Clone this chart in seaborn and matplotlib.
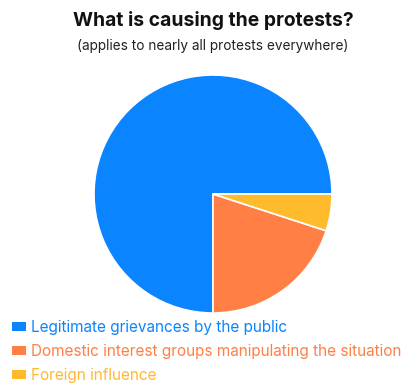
import matplotlib
matplotlib.use("Agg")
import matplotlib.pyplot as plt
import seaborn as sns
from matplotlib.patches import Patch

sns.set_theme(style="white")
plt.rcParams['font.family'] = ['Inter', 'DejaVu Sans']

categories = ["Legitimate grievances by the public",
              "Domestic interest groups manipulating the situation",
              "Foreign influence"]
values = [75, 20, 5]
colors = sns.color_palette(["#0a84ff", "#ff7f45", "#ffbb2c"])

W, H = 413, 392
fig = plt.figure(figsize=(W / 100, H / 100), dpi=100)
fig.patch.set_facecolor("white")

cx, cy, r = 213, 194, 119
ax = fig.add_axes([(cx - r) / W, (H - cy - r) / H, 2 * r / W, 2 * r / H])
ax.pie(values, colors=colors, startangle=0, counterclock=True,
       wedgeprops=dict(edgecolor="white", linewidth=1.2))
ax.set_xlim(-1, 1)
ax.set_ylim(-1, 1)
ax.set_aspect("equal")
ax.axis("off")

fig.text(213 / W, 1 - 20 / H, "What is causing the protests?", ha="center", va="center",
         fontsize=13.9, fontweight="bold", color="#111111")
fig.text(213 / W, 1 - 46 / H, "(applies to nearly all protests everywhere)", ha="center",
         va="center", fontsize=9.8, color="#222222")

handles = [Patch(facecolor=c, edgecolor="none") for c in colors]
leg = fig.legend(handles, categories, loc="upper left",
                 bbox_to_anchor=(12 / W, 1 - 320 / H), bbox_transform=fig.transFigure,
                 frameon=False, borderpad=0, borderaxespad=0,
                 fontsize=11.05, handlelength=0.93, handleheight=0.6,
                 handletextpad=0.3, labelspacing=0.58)
for t, c in zip(leg.get_texts(), colors):
    t.set_color(c)

fig.savefig("out.png", dpi=100, facecolor="white")
